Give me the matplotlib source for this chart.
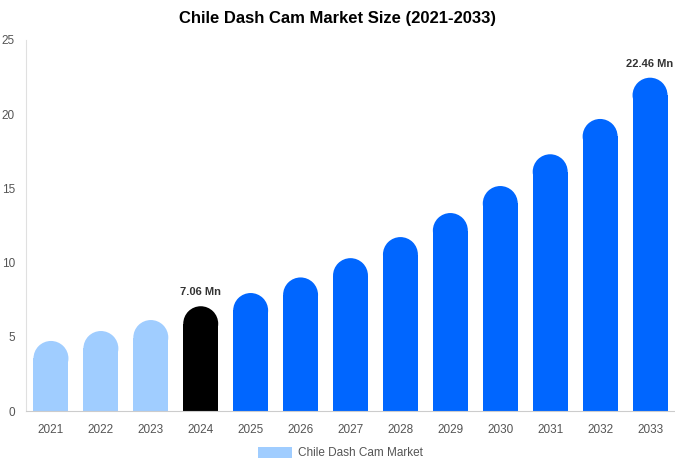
import numpy as np
import matplotlib.pyplot as plt
from matplotlib.patches import Rectangle, Ellipse

years = ["2021", "2022", "2023", "2024", "2025", "2026", "2027",
         "2028", "2029", "2030", "2031", "2032", "2033"]
values = [4.72, 5.39, 6.13, 7.06, 7.95, 9.0, 10.3, 11.72, 13.34, 15.16, 17.3, 19.68, 22.46]
colors = ["#A0CDFF"] * 3 + ["#000000"] + ["#0066FF"] * 9
labels = {3: "7.06 Mn", 12: "22.46 Mn"}

plt.rcParams["font.family"] = ["Liberation Sans", "DejaVu Sans"]

fig = plt.figure(figsize=(6.75, 4.69), dpi=100)
ax = fig.add_axes([26 / 675, 58 / 469, (675 - 26) / 675, (411 - 40) / 469])
ax.set_xlim(-0.5, len(years) - 0.5)
ax.set_ylim(0, 25)

# pixel scale so the caps come out round
bbox = ax.get_window_extent()
px_x = bbox.width / len(years)
px_y = bbox.height / 25
w = 0.7
cap_h = w * px_x / px_y  # full ellipse height in data units

for i, (v, c) in enumerate(zip(values, colors)):
    r = cap_h / 2
    ax.add_patch(Rectangle((i - w / 2, 0), w, v - r, facecolor=c, edgecolor="none"))
    ax.add_patch(Ellipse((i, v - r), w, cap_h, facecolor=c, edgecolor="none"))
    if i in labels:
        ax.text(i, v + 0.6, labels[i], ha="center", va="bottom",
                fontsize=8, fontweight="bold", color="#333333")

ax.set_xticks(range(len(years)))
ax.set_xticklabels(years)
ax.set_yticks([0, 5, 10, 15, 20, 25])
ax.tick_params(axis="both", length=0, labelsize=8.5, colors="#555555")
ax.tick_params(axis="x", pad=9)
ax.tick_params(axis="y", pad=8)
for s in ["top", "right"]:
    ax.spines[s].set_visible(False)
ax.spines["left"].set_color("#E0E0E0")
ax.spines["bottom"].set_color("#CCCCCC")

fig.text(0.5, 1 - 19 / 469, "Chile Dash Cam Market Size (2021-2033)",
         ha="center", va="center", fontsize=12, fontweight="bold")

# legend
lx, ly = 258 / 675, 1 - 453 / 469
fig.patches.append(Rectangle((lx, ly - 5 / 469), 34 / 675, 11 / 469,
                             transform=fig.transFigure, facecolor="#A0CDFF",
                             edgecolor="none"))
fig.text(lx + 40 / 675, ly, "Chile Dash Cam Market", ha="left", va="center",
         fontsize=8.5, color="#555555")

fig.savefig("out.png", dpi=100)
